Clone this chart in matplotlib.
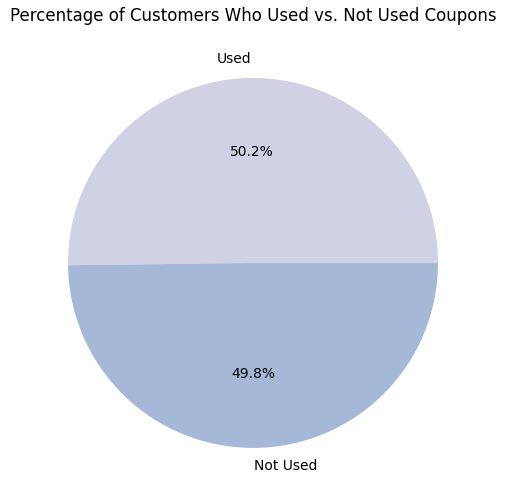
import matplotlib.pyplot as plt

labels = ['Used', 'Not Used']
values = [50.2, 49.8]
colors = ['#d1d1e6', '#a6b8d7']

fig = plt.figure(figsize=(5.06, 5.04), dpi=100)
ax = fig.add_axes([0.043, 0.0193, 0.914, 0.918])
ax.pie(values, labels=labels, colors=colors, autopct='%1.1f%%')
ax.set_title('Percentage of Customers Who Used vs. Not Used Coupons', pad=8)

plt.savefig('out.png')
plt.close()
